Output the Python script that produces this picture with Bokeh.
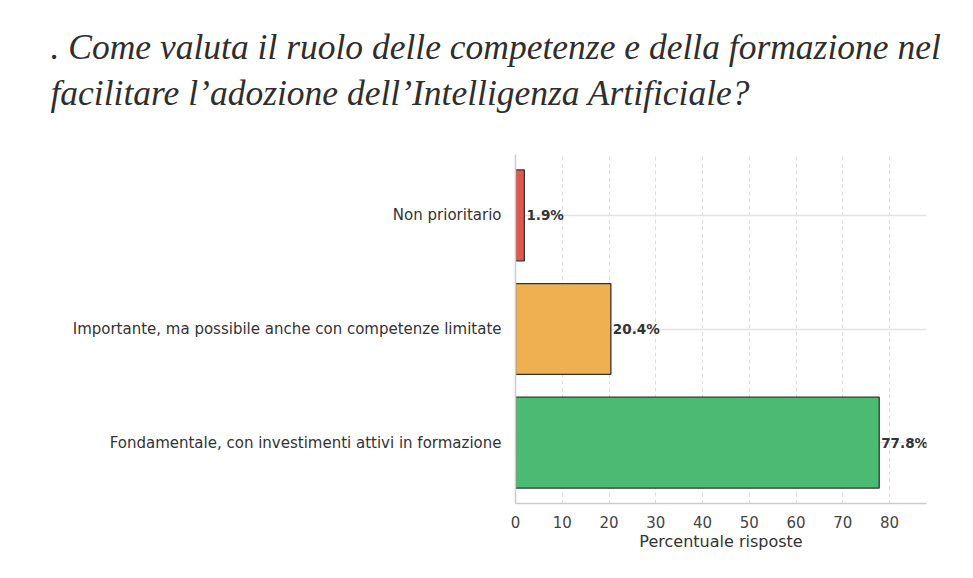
from bokeh.plotting import figure
from bokeh.models import FactorRange, Title, ColumnDataSource, Range1d, FixedTicker
from bokeh.embed import file_html
from bokeh.resources import INLINE
from bokeh.core.properties import value

# ---- data ----
categories = ["Fondamentale, con investimenti attivi in formazione",
              "Importante, ma possibile anche con competenze limitate",
              "Non prioritario"]
percentages = [77.8, 20.4, 1.9]
bar_colors = ["#4bbb73", "#eeb050", "#e0584a"]
x_ticks = [0, 10, 20, 30, 40, 50, 60, 70, 80]
title_lines = [". Come valuta il ruolo delle competenze e della formazione nel",
               "facilitare l\u2019adozione dell\u2019Intelligenza Artificiale?"]
x_label = "Percentuale risposte"

labels = [f"{v:.1f}%" for v in percentages]
src = ColumnDataSource(dict(cat=categories, val=percentages, color=bar_colors, lab=labels))

W, H = 970, 575
FL, FT, FB = 515, 155, 503
p = figure(width=W, height=H, output_backend="svg", toolbar_location=None,
           y_range=FactorRange(factors=categories, range_padding=0.024),
           x_range=Range1d(0, max(percentages) * 1.13),
           min_border_left=FL, min_border_right=W - 926, min_border_top=0, min_border_bottom=H - FB)
p.outline_line_color = None

p.hbar(y="cat", right="val", left=0, height=0.8, source=src, fill_color="color",
       line_color="#333333", line_width=1.3)
p.text(x="val", y="cat", text="lab", source=src, x_offset=2, text_baseline="middle",
       text_align="left", text_font=value("DejaVu Sans"), text_font_style="bold",
       text_font_size="13.5px", text_color="#333333")

p.xaxis.ticker = FixedTicker(ticks=x_ticks)
p.xaxis.axis_label = x_label
p.xaxis.axis_label_text_font = "DejaVu Sans"
p.xaxis.axis_label_text_font_style = "normal"
p.xaxis.axis_label_text_font_size = "16px"
p.xaxis.axis_label_text_color = "#333333"
p.xaxis.axis_label_standoff = 1
p.xaxis.major_label_text_font = "DejaVu Sans"
p.xaxis.major_label_text_font_size = "15px"
p.xaxis.major_label_text_color = "#444444"
p.xaxis.major_label_standoff = 6
p.yaxis.major_label_text_font = "DejaVu Sans"
p.yaxis.major_label_text_font_size = "15px"
p.yaxis.major_label_text_color = "#333333"
p.yaxis.major_label_standoff = 8
for ax in (p.xaxis, p.yaxis):
    ax.axis_line_color = "#cccccc"
    ax.axis_line_width = 1.5
    ax.major_tick_line_color = None
    ax.minor_tick_line_color = None

p.xgrid.grid_line_color = "#dddddd"
p.xgrid.grid_line_dash = "4 3"
p.ygrid.grid_line_color = "#e3e3e3"
p.ygrid.grid_line_width = 1.3

# spacer closest to the frame, then the two-line title
p.add_layout(Title(text=" ", text_font_size="1px", standoff=15), "above")
p.add_layout(Title(text="\n".join(title_lines), align="left", offset=50 - FL, standoff=48,
                   text_font="Liberation Serif", text_font_style="italic",
                   text_font_size="35.5px", text_line_height=1.15,
                   text_color="#2e2e2e"), "above")

open("out.html", "w").write(file_html(p, INLINE))
